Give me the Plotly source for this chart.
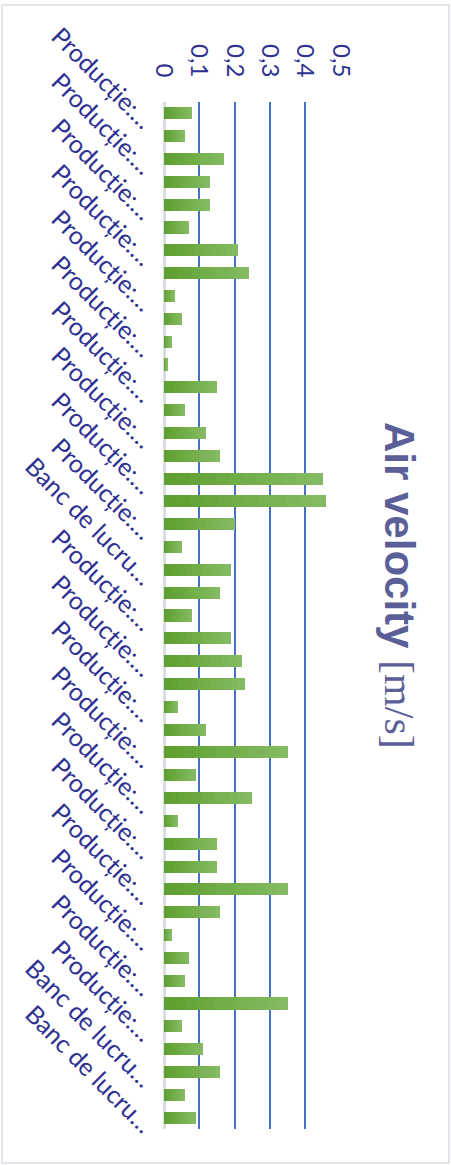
import plotly.graph_objects as go

# ---- data ----
positions = list(range(1, 46))
air_velocity = [0.08, 0.06, 0.17, 0.13, 0.13, 0.07, 0.21, 0.24, 0.03, 0.05,
                0.02, 0.01, 0.15, 0.06, 0.12, 0.16, 0.45, 0.46, 0.20, 0.05,
                0.19, 0.16, 0.08, 0.19, 0.22, 0.23, 0.04, 0.12, 0.35, 0.09,
                0.25, 0.04, 0.15, 0.15, 0.35, 0.16, 0.02, 0.07, 0.06, 0.35,
                0.05, 0.11, 0.16, 0.06, 0.09]
tick_positions = positions[::2]
tick_labels = ["Producție:…"] * 10 + ["Banc de lucru…"] + ["Producție:…"] * 10 + ["Banc de lucru…"] * 2
x_ticks = [0, 0.1, 0.2, 0.3, 0.4, 0.5]

# ---- styling ----
W, H = 451, 1165
L, R, T, B = 164, 110, 102, 36
pw, ph = W - L - R, H - T - B
label_color = "#2E3192"
title_color = "#5B5F97"
c0 = (95, 160, 48)
c1 = (132, 186, 98)
N = 12

fig = go.Figure()
for k in range(N):
    t = k / (N - 1)
    col = "rgb({},{},{})".format(*[round(a + (b - a) * t) for a, b in zip(c0, c1)])
    fig.add_trace(go.Bar(
        y=positions, x=[v / N for v in air_velocity], orientation="h",
        marker=dict(color=col, line=dict(width=0)), showlegend=False,
        hoverinfo="skip"))

fig.update_layout(
    width=W, height=H, barmode="stack", bargap=0.47,
    margin=dict(l=L, r=R, t=T, b=B, autoexpand=False),
    paper_bgcolor="white", plot_bgcolor="white",
    separators=", ",
    font=dict(family="Lato", color=label_color),
    xaxis=dict(side="top", range=[0, 0.5015], tickvals=x_ticks,
               tickangle=90, tickfont=dict(size=24, color=label_color, family="Lato"),
               ticklabelstandoff=20,
               showgrid=True, gridcolor="#4472C4", gridwidth=1.5,
               zeroline=True, zerolinecolor="#D9DCE3", zerolinewidth=2.5,
               showline=False, ticks="", fixedrange=True),
    yaxis=dict(range=[45.5, 0.5], tickvals=tick_positions, ticktext=tick_labels,
               tickangle=45, tickfont=dict(size=25, color=label_color, family="Lato"),
               ticklabelstandoff=12, ticklabelshift=-12,
               showgrid=False, zeroline=False, showline=False, ticks=""),
    annotations=[dict(
        text="<b>Air velocity</b> <span style='font-family:Liberation Serif'>[m/s]</span>",
        xref="paper", yref="paper", x=(400 - L) / pw, y=(H - B - 585) / ph,
        xanchor="center", yanchor="middle", textangle=90, showarrow=False,
        font=dict(size=42, color=title_color, family="Liberation Sans"))],
    shapes=[dict(type="rect", xref="paper", yref="paper",
                 x0=(2 - L) / pw, x1=(449 - L) / pw,
                 y0=(H - B - 1163) / ph, y1=(H - B - 5) / ph,
                 line=dict(color="#D9DEE6", width=1.5), layer="below")],
)

fig.write_html("out.html")
